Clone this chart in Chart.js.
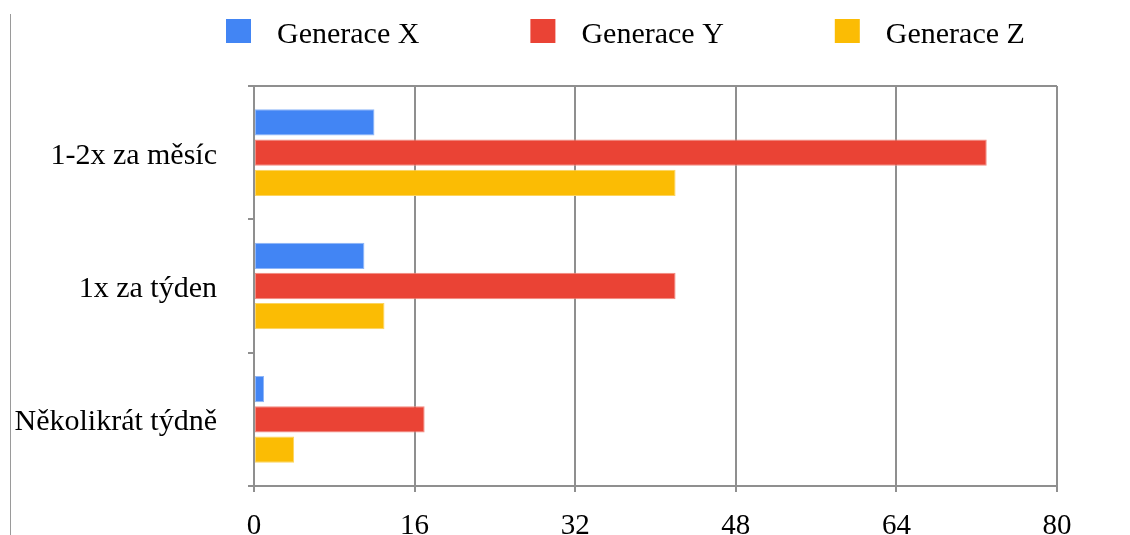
<!DOCTYPE html>
<html lang="cs">
<head>
<meta charset="utf-8">
<title>Generace X, Y, Z</title>
<script src="https://cdn.jsdelivr.net/npm/chart.js@4.4.1/dist/chart.umd.min.js"></script>
<style>
  html, body { margin: 0; padding: 0; background: #fff; }
  #wrap { position: relative; width: 1130px; height: 535px; overflow: hidden; }
  #edge { position: absolute; left: 10px; top: 14px; width: 1px; height: 530px; background: #9a9a9a; }
  canvas { position: absolute; left: 0; top: 0; }
</style>
</head>
<body>
<div id="wrap">
  <div id="edge"></div>
  <canvas id="chart" width="1130" height="535"></canvas>
</div>
<script>
const categories = ["1-2x za měsíc", "1x za týden", "Několikrát týdně"];
const seriesNames = ["Generace X", "Generace Y", "Generace Z"];
const genX = [12, 11, 1];
const genY = [73, 42, 17];
const genZ = [42, 13, 4];
const xTicks = [0, 16, 32, 48, 64, 80];

const fills = ["#4285f4", "#ea4335", "#fbbc04"];
const edges = ["#8fb6f8", "#f28a80", "#fcd45f"];
const serif = '"Liberation Serif", "Times New Roman", serif';
const gridGrey = "#8f8f8f";

// legend drawn by hand so the box/text spacing can be set freely
const topLegend = {
  id: "topLegend",
  afterDraw(chart) {
    const ctx = chart.ctx;
    ctx.save();
    ctx.font = "30px " + serif;
    ctx.textBaseline = "alphabetic";
    let x = 226;
    chart.data.datasets.forEach((ds) => {
      ctx.fillStyle = ds.backgroundColor;
      ctx.fillRect(x, 19, 25, 24);
      ctx.fillStyle = "#000";
      ctx.fillText(ds.label, x + 51, 43);
      x += 51 + ctx.measureText(ds.label).width + 111;
    });
    ctx.restore();
  }
};

const values = [genX, genY, genZ];

new Chart(document.getElementById("chart").getContext("2d"), {
  type: "bar",
  data: {
    labels: categories,
    datasets: seriesNames.map((name, i) => ({
      label: name,
      data: values[i],
      backgroundColor: fills[i],
      borderColor: edges[i],
      borderWidth: 1,
      borderSkipped: false,
      barPercentage: 0.87,
      categoryPercentage: 0.68
    }))
  },
  options: {
    indexAxis: "y",
    responsive: false,
    animation: false,
    layout: { padding: { top: 86, left: 11, right: 73, bottom: 0 } },
    plugins: {
      legend: { display: false },
      tooltip: { enabled: false }
    },
    scales: {
      x: {
        min: 0,
        max: 80,
        afterBuildTicks: (scale) => { scale.ticks = xTicks.map((v) => ({ value: v })); },
        afterFit: (scale) => { scale.height = 48; },
        grid: { color: gridGrey, lineWidth: 2, tickLength: 6, tickColor: gridGrey },
        border: { color: gridGrey, width: 2 },
        ticks: { color: "#000", padding: 17, font: { family: serif, size: 29 } }
      },
      y: {
        z: 1,
        afterFit: (scale) => { scale.width = 243; },
        grid: {
          offset: true,
          lineWidth: 2,
          tickLength: 6,
          tickColor: gridGrey,
          color: (c) => (c.index === 0 ? gridGrey : "rgba(0,0,0,0)")
        },
        border: { color: gridGrey, width: 2 },
        ticks: { color: "#000", padding: 31, labelOffset: 3, font: { family: serif, size: 30 } }
      }
    }
  },
  plugins: [topLegend]
});
</script>
</body>
</html>
